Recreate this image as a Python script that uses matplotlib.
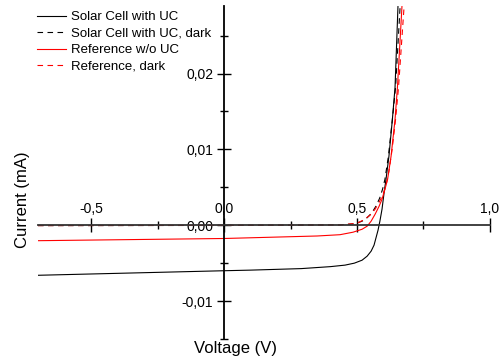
import matplotlib
matplotlib.use("Agg")
import matplotlib.pyplot as plt
from matplotlib.ticker import FuncFormatter, FixedLocator

plt.rcParams['font.family'] = ['Liberation Sans', 'DejaVu Sans']

# Solar Cell with UC (illuminated)
v_uc = [-0.70, 0.0, 0.10, 0.29, 0.40, 0.455, 0.49, 0.519, 0.538, 0.553, 0.564,
        0.571, 0.579, 0.586, 0.594, 0.602, 0.609, 0.620, 0.633, 0.643, 0.654]
i_uc = [-0.0066, -0.0060, -0.00592, -0.00572, -0.00546, -0.00526, -0.0050,
        -0.00461, -0.00408, -0.00342, -0.00263, -0.00171, -0.00066, 0.00053,
        0.00211, 0.00434, 0.00605, 0.00908, 0.01395, 0.01816, 0.02882]

# Solar Cell with UC, dark
v_uc_dark = [-0.70, 0.0, 0.436, 0.492, 0.519, 0.538, 0.556, 0.571, 0.585,
             0.596, 0.605, 0.618, 0.633, 0.645, 0.662]
i_uc_dark = [-0.00005, -0.00003, 0.00004, 0.0002, 0.00053, 0.00099, 0.00164,
             0.0025, 0.00355, 0.00474, 0.00605, 0.00908, 0.01395, 0.01816, 0.02882]

# Reference w/o UC (illuminated)
v_ref = [-0.70, 0.0, 0.350, 0.436, 0.485, 0.519, 0.538, 0.553, 0.568, 0.583,
         0.594, 0.605, 0.615, 0.628, 0.643, 0.652, 0.669]
i_ref = [-0.00204, -0.00175, -0.00142, -0.00125, -0.00092, -0.00053, -0.00013,
         0.00053, 0.00145, 0.0025, 0.00342, 0.00474, 0.00605, 0.00908, 0.01395,
         0.01816, 0.02882]

# Reference, dark
v_ref_dark = [-0.70, 0.0, 0.436, 0.500, 0.526, 0.549, 0.568, 0.583, 0.598,
              0.609, 0.620, 0.632, 0.645, 0.656, 0.677]
i_ref_dark = [-0.00005, -0.00002, 0.00003, 0.00026, 0.00072, 0.00132, 0.00211,
              0.00303, 0.00408, 0.00526, 0.00711, 0.0100, 0.01395, 0.01816, 0.02882]

labels = ["Solar Cell with UC", "Solar Cell with UC, dark",
          "Reference w/o UC", "Reference, dark"]

fig = plt.figure(figsize=(5.03, 3.62), dpi=100)
ax = fig.add_axes([38 / 503, 1 - 339 / 362, (495 - 38) / 503, (339 - 6) / 362])

ax.plot(v_uc, i_uc, color='black', lw=0.8, label=labels[0])
ax.plot(v_uc_dark, i_uc_dark, color='black', lw=0.8, ls=(0, (5, 4)), label=labels[1])
ax.plot(v_ref, i_ref, color='red', lw=0.8, label=labels[2])
ax.plot(v_ref_dark, i_ref_dark, color='red', lw=0.8, ls=(0, (5, 4)), label=labels[3])

ax.set_xlim(-0.70, 1.019)
ax.set_ylim(-0.015, 0.0289)

# axes through origin
ax.spines['left'].set_position(('data', 0))
ax.spines['top'].set_position(('data', 0))
ax.spines['top'].set_bounds(-0.70, 1.0)
ax.spines['bottom'].set_visible(False)
ax.spines['right'].set_visible(False)
for s in ('left', 'top'):
    ax.spines[s].set_linewidth(1.3)
ax.spines['top'].set_color('#333333')
ax.xaxis.set_ticks_position('top')
ax.yaxis.set_ticks_position('left')

ax.xaxis.set_major_locator(FixedLocator([-0.5, 0.0, 0.5, 1.0]))
ax.xaxis.set_minor_locator(FixedLocator([-0.25, 0.25, 0.75]))
ax.yaxis.set_major_locator(FixedLocator([-0.01, 0.0, 0.01, 0.02]))
ax.yaxis.set_minor_locator(FixedLocator([-0.015, -0.005, 0.005, 0.015, 0.025]))
ax.xaxis.set_major_formatter(FuncFormatter(lambda x, p: f"{x:.1f}".replace('.', ',')))
ax.yaxis.set_major_formatter(FuncFormatter(lambda y, p: f"{y:.2f}".replace('.', ',')))

ax.tick_params(which='major', direction='inout', length=9.5, width=1.0, labelsize=10, pad=2)
ax.tick_params(which='minor', direction='inout', length=6, width=1.0)
ax.tick_params(axis='y', which='major', pad=3)

fig.text(235 / 503, 1 - 348 / 362, "Voltage (V)", ha='center', va='center', fontsize=12)
fig.text(23 / 503, 1 - 200 / 362, "Current (mA)", ha='center', va='center',
         fontsize=12, rotation=90)

ax.legend(loc='upper left', bbox_to_anchor=(37 / 503, 1 - 11 / 362),
          bbox_transform=fig.transFigure, frameon=False, fontsize=9.5,
          handlelength=2.2, handletextpad=0.35, labelspacing=0.32,
          borderpad=0, borderaxespad=0)

fig.savefig("out.png", dpi=100)
